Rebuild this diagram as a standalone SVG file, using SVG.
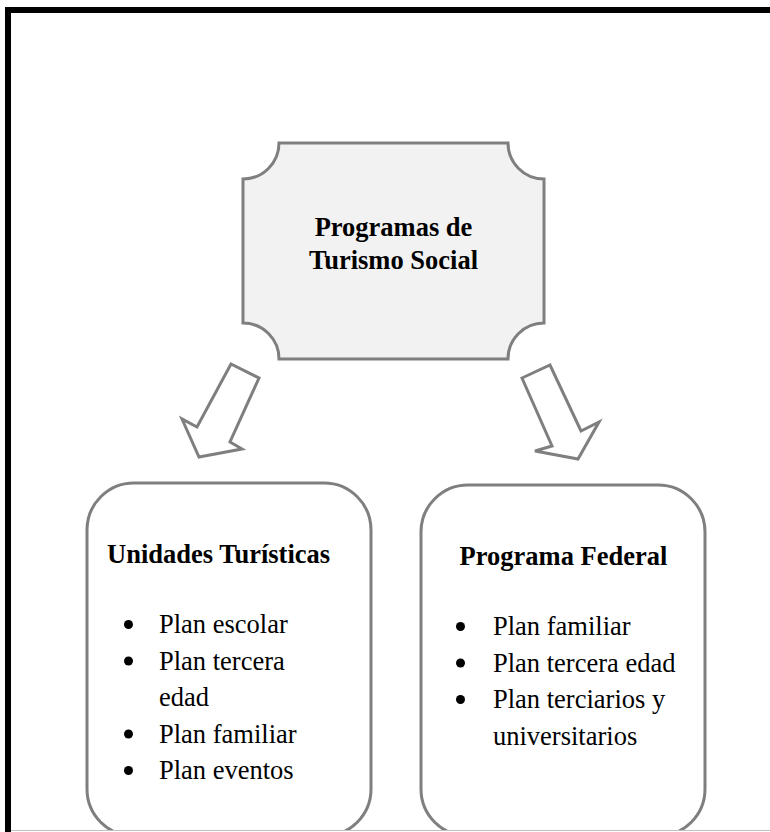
<svg xmlns="http://www.w3.org/2000/svg" width="770" height="832" viewBox="0 0 770 832">
<style>
.shape{fill:#ffffff;stroke:#7f7f7f;stroke-width:3}
.plaque{fill:#f2f2f2;stroke:#7f7f7f;stroke-width:3}
.arrow{fill:#ffffff;stroke:#7f7f7f;stroke-width:3;stroke-linejoin:miter}
.title{font-family:"Liberation Serif","Times New Roman",serif;font-weight:bold;font-size:26.5px;fill:#000}
.item{font-family:"Liberation Serif","Times New Roman",serif;font-size:26.5px;fill:#000}
</style>
<defs>
<clipPath id="page"><rect x="0" y="0" width="770" height="830"/></clipPath>
</defs>
<rect x="0" y="0" width="770" height="832" fill="#ffffff"/>
<g id="frame">
<path d="M8,832 V10 H770" fill="none" stroke="#000" stroke-width="6"/>
<line x1="11" y1="830.5" x2="770" y2="830.5" stroke="#bfbfbf" stroke-width="1"/>
</g>
<g id="node-programas">
<path class="plaque" d="M279,143 H508 A36,36 0 0 0 544,179 V323 A36,36 0 0 0 508,359 H279 A36,36 0 0 0 243,323 V179 A36,36 0 0 0 279,143 Z"/>
<text class="title" x="393.5" y="236" text-anchor="middle">Programas de</text>
<text class="title" x="393.5" y="269" text-anchor="middle">Turismo Social</text>
</g>
<g id="connectors">
<polygon class="arrow" points="231,364 259,378 230,442 242,449 199,457 182,419 197,427"/>
<polygon class="arrow" points="522,378 550,365 581,431 599,422 578,459 535,451 552,446"/>
</g>
<g id="node-unidades" clip-path="url(#page)">
<rect class="shape" x="87" y="483" width="284" height="353" rx="47" ry="47"/>
<text class="title" x="107" y="563">Unidades Turísticas</text>
<circle cx="128.5" cy="624.5" r="4.5"/>
<text class="item" x="159" y="633">Plan escolar</text>
<circle cx="128.5" cy="661" r="4.5"/>
<text class="item" x="159" y="669.5">Plan tercera</text>
<text class="item" x="159" y="706">edad</text>
<circle cx="128.5" cy="734" r="4.5"/>
<text class="item" x="159" y="742.5">Plan familiar</text>
<circle cx="128.5" cy="770.5" r="4.5"/>
<text class="item" x="159" y="779">Plan eventos</text>
</g>
<g id="node-federal" clip-path="url(#page)">
<rect class="shape" x="421" y="485" width="284" height="351" rx="47" ry="47"/>
<text class="title" x="563.5" y="565" text-anchor="middle">Programa Federal</text>
<circle cx="460.5" cy="626.5" r="4.5"/>
<text class="item" x="493" y="635">Plan familiar</text>
<circle cx="460.5" cy="663" r="4.5"/>
<text class="item" x="493" y="671.5">Plan tercera edad</text>
<circle cx="460.5" cy="699.5" r="4.5"/>
<text class="item" x="493" y="708">Plan terciarios y</text>
<text class="item" x="493" y="744.5">universitarios</text>
</g>
</svg>
